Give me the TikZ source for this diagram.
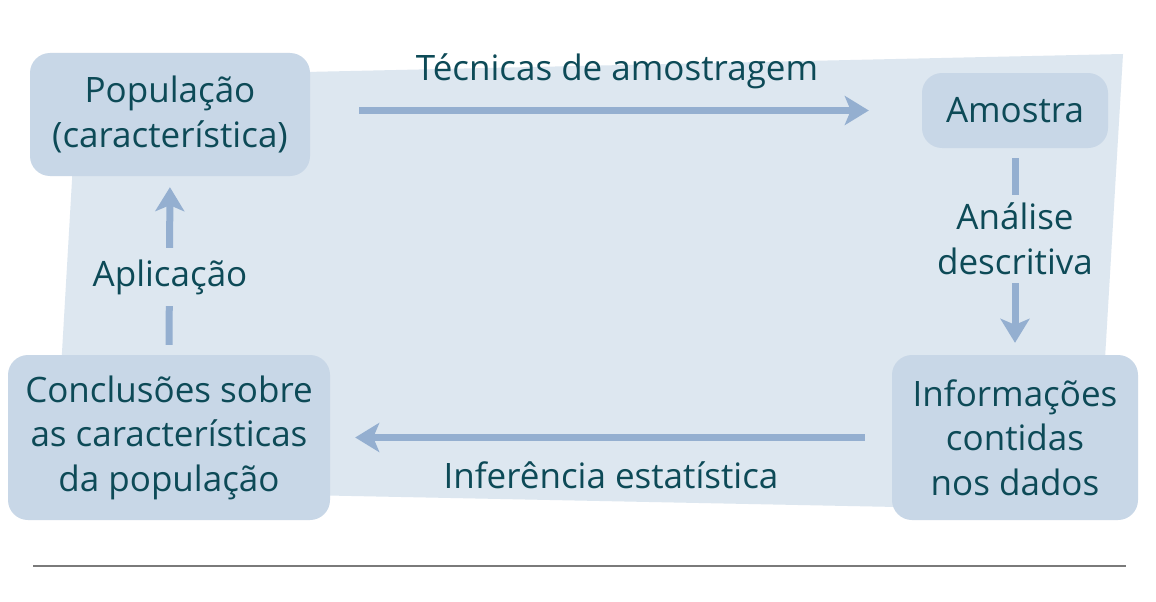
\documentclass[tikz,border=0pt]{standalone}
\usepackage{fontspec}
\setmainfont{Open Sans}
\usetikzlibrary{arrows.meta}
\definecolor{bgc}{HTML}{DDE7F0}
\definecolor{boxc}{HTML}{C8D7E7}
\definecolor{arrc}{HTML}{94AFD0}
\definecolor{txtc}{HTML}{0D4A57}
\definecolor{rulec}{HTML}{7A7A7A}
\begin{document}
\begin{tikzpicture}[x=1pt,y=-1pt,
  txt/.style={text=txtc, font=\fontsize{35}{44.5}\selectfont, align=center, inner sep=0pt},
  box/.style={txt, fill=boxc, rounded corners=20pt},
  lab/.style={txt, fill=bgc, inner xsep=2pt},
  arr/.style={draw=arrc, line width=7pt, -{Stealth[length=24pt,width=29pt,inset=6pt]}}]
\useasboundingbox (0,0) rectangle (1156,602);
\fill[white] (0,0) rectangle (1156,602);
% background
\fill[bgc] (78,77) -- (1123,54) -- (1096,511) -- (54,490) -- cycle;
% boxes
\node[box, minimum width=280pt, minimum height=123pt] (pop) at (170,114.5) {População\\(característica)};
\node[box, minimum width=186pt, minimum height=75pt] (amo) at (1015,110.5) {Amostra};
\node[box, minimum width=322pt, minimum height=165pt] (con) at (169,437.5) {Conclusões sobre\\as características\\da população};
\node[box, minimum width=246pt, minimum height=165pt] (inf) at (1015,437.5) {Informações\\contidas\\nos dados};
% arrows
\draw[arr, shorten <=49pt, shorten >=53pt] (pop.east |- amo.west) -- (amo.west);
\draw[arr, shorten <=10pt, shorten >=11pt] (con.north) -- (pop.south);
\draw[arr, shorten <=10pt, shorten >=12pt] (amo.south) -- (inf.north);
\draw[arr, shorten <=27pt, shorten >=25pt] (inf.west) -- (con.east);
% labels
\node[txt] (tec) at (617,71) {Técnicas de amostragem};
\node[txt] (infe) at (611,475) {Inferência estatística};
\node[lab, minimum height=58pt] (apl) at (170,277) {Aplicação};
\node[lab, minimum height=88pt] (ana) at (1015,239) {Análise\\descritiva};
% rule
\draw[rulec, line width=1.5pt] (33,566) -- (1126,566);
\end{tikzpicture}
\end{document}
